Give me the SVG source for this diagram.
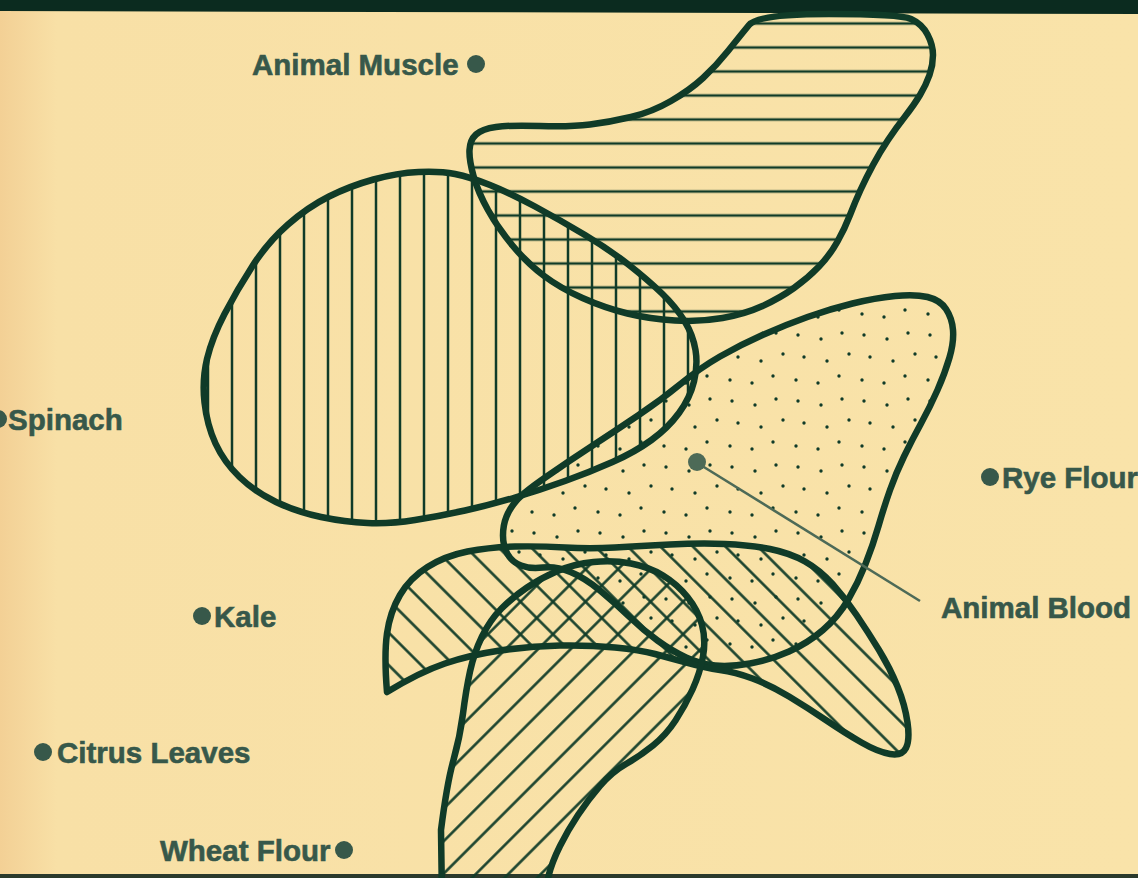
<svg xmlns="http://www.w3.org/2000/svg" width="1138" height="878" viewBox="0 0 1138 878">
<style>
.ol{fill:none;stroke:#103b28;stroke-width:6.5;stroke-linejoin:round;stroke-linecap:round}
.hl{stroke:#103b28;stroke-width:2.5}
.lbl{font-family:"Liberation Sans",Arial,Helvetica,sans-serif;font-weight:bold;font-size:29.5px;fill:#37584a;stroke:#37584a;stroke-width:0.6}
.bul{fill:#37584a}
</style>
<defs>
<linearGradient id="bg" x1="0" y1="0" x2="1" y2="0">
<stop offset="0" stop-color="#f3d095"/>
<stop offset="0.05" stop-color="#f8e0a6"/>
<stop offset="1" stop-color="#f9e3a9"/>
</linearGradient>
<pattern id="pH" patternUnits="userSpaceOnUse" x="0" y="11.5" width="40" height="24"><line class="hl" x1="0" y1="12" x2="40" y2="12"/></pattern>
<pattern id="pV" patternUnits="userSpaceOnUse" x="4" y="0" width="24" height="40"><line class="hl" x1="12" y1="0" x2="12" y2="40"/></pattern>
<pattern id="pD1" patternUnits="userSpaceOnUse" width="40" height="23" patternTransform="rotate(45)"><line class="hl" x1="0" y1="11.5" x2="40" y2="11.5"/></pattern>
<pattern id="pD2" patternUnits="userSpaceOnUse" width="40" height="23" patternTransform="rotate(-45)"><line class="hl" x1="0" y1="11.5" x2="40" y2="11.5"/></pattern>
<pattern id="pDot" patternUnits="userSpaceOnUse" width="66" height="66" fill="#103b28">
<circle cx="6" cy="5" r="1.7"/><circle cx="29" cy="9" r="1.7"/><circle cx="50" cy="3" r="1.7"/>
<circle cx="12" cy="27" r="1.7"/><circle cx="35" cy="31" r="1.7"/><circle cx="57" cy="24" r="1.7"/>
<circle cx="4" cy="50" r="1.7"/><circle cx="26" cy="53" r="1.7"/><circle cx="47" cy="46" r="1.7"/>
</pattern>
<path id="shA" d="M749,25 Q758,14 829,14 Q900,14 911,19 Q922,24 927.5,34.5 Q933,45 933,55 Q933,65 929.5,75 Q926,85 920,95 Q914,105 905,116.5 Q896,128 888,140 Q880,152 873,165 Q866,178 860.5,190 Q855,202 850,215 Q845,228 837.5,241.5 Q830,255 819,266.5 Q808,278 794,288 Q780,298 762.5,306 Q745,314 722.5,318 Q700,322 675,320.5 Q650,319 627.5,313.5 Q605,308 582.5,298 Q560,288 543.5,275.5 Q527,263 512.5,245.5 Q498,228 488,210 Q478,192 473.5,176 Q469,160 469.5,150 Q470,140 476,134.5 Q482,129 496,127 Q510,125 540,126 Q570,127 590,124.5 Q610,122 631,117 Q652,112 671,101 Q690,90 703,78 Q716,66 728,51 Q740,36 749,25 Z"/>
<path id="shB" d="M418.5,172 Q440,171 455,174 Q470,177 490,185 Q510,193 535,206.5 Q560,220 585,235 Q610,250 629,265 Q648,280 662,293.5 Q676,307 684.5,321 Q693,335 695.5,350 Q698,365 694,381.5 Q690,398 679,413 Q668,428 651.5,440 Q635,452 612.5,462 Q590,472 565,481 Q540,490 515,497.5 Q490,505 465,510.5 Q440,516 415,520 Q390,524 367.5,523 Q345,522 321,517 Q297,512 276,502 Q255,492 239.5,477 Q224,462 215.5,443.5 Q207,425 204.5,402.5 Q202,380 207,359 Q212,338 224.5,314 Q237,290 252.5,266 Q268,242 288,224.5 Q308,207 329,196.5 Q350,186 373.5,179.5 Q397,173 418.5,172 Z"/>
<path id="shC" d="M516.5,500.5 Q523,493 546,477 Q569,461 592,446 Q615,431 638,415.5 Q661,400 680.5,384 Q700,368 720,356.5 Q740,345 762.5,335 Q785,325 807.5,317 Q830,309 852.5,303.5 Q875,298 895,296 Q915,294 927.5,297 Q940,300 946,309 Q952,318 953,330 Q954,342 949.5,357.5 Q945,373 937.5,390 Q930,407 921,423.5 Q912,440 904,456.5 Q896,473 890,490 Q884,507 878.5,526 Q873,545 865.5,564 Q858,583 848,600 Q838,617 823,630 Q808,643 789,651.5 Q770,660 750,663.5 Q730,667 715,665.5 Q700,664 686,657.5 Q672,651 657.5,640.5 Q643,630 629,616.5 Q615,603 600,590.5 Q585,578 570.5,572 Q556,566 543,567.5 Q530,569 521,565.5 Q512,562 507.5,554 Q503,546 503,535.5 Q503,525 506.5,516.5 Q510,508 516.5,500.5 Z"/>
<path id="shD" d="M387,692 Q384,655 387,633.5 Q390,612 400,595 Q410,578 427.5,567 Q445,556 467.5,551.5 Q490,547 515,546.5 Q540,546 565,547.5 Q590,549 615,547.5 Q640,546 670,544.5 Q700,543 725,544 Q750,545 770,549 Q790,553 805,561.5 Q820,570 832.5,584 Q845,598 856.5,615 Q868,632 879,650 Q890,668 897.5,686.5 Q905,705 907.5,722.5 Q910,740 906,748 Q902,756 890,754 Q878,752 861.5,742.5 Q845,733 826.5,720.5 Q808,708 789,696.5 Q770,685 752.5,678.5 Q735,672 720,670 Q705,668 687.5,663 Q670,658 655,654 Q640,650 615,647.5 Q590,645 560,645.5 Q530,646 500,650.5 Q470,655 445,663.5 Q420,672 387,692 Z"/>
<path id="shE" d="M442,900 L441,830 Q447,783 453.5,760 Q460,737 463,713.5 Q466,690 470,671.5 Q474,653 482,636.5 Q490,620 501.5,608.5 Q513,597 527,587.5 Q541,578 557.5,571 Q574,564 593.5,562 Q613,560 631,563.5 Q649,567 663,575.5 Q677,584 687.5,597 Q698,610 702,625 Q706,640 703,656.5 Q700,673 692.5,689.5 Q685,706 675.5,720.5 Q666,735 653,745.5 Q640,756 626,764 Q612,772 600,786 Q588,800 578,815 Q568,830 560,846 Q552,862 548.5,876 L545,900 Z"/>
</defs>
<rect width="1138" height="878" fill="url(#bg)"/>
<polygon points="0,0 1138,0 1138,14 0,11" fill="#0b2b1f"/>
<rect x="0" y="874" width="1138" height="4" fill="#2b3a2c"/>

<g id="region-horizontal">
<use href="#shA" fill="url(#pH)"/>
</g>
<g id="region-vertical">
<use href="#shB" fill="url(#pV)"/>
</g>
<g id="region-animal-blood">
<use href="#shC" fill="url(#pDot)"/>
</g>
<g id="region-diag-back">
<use href="#shD" fill="url(#pD1)"/>
</g>
<g id="region-diag-fwd">
<use href="#shE" fill="url(#pD2)"/>
</g>
<g id="outlines">
<use href="#shA" class="ol"/>
<use href="#shB" class="ol"/>
<use href="#shC" class="ol"/>
<use href="#shD" class="ol"/>
<use href="#shE" class="ol"/>
</g>

<g id="connectors">
<line x1="699" y1="464" x2="920" y2="601" stroke="#4d6a57" stroke-width="2.6"/>
<circle cx="697" cy="462" r="9" fill="#4d6a57"/>
</g>

<g id="label-animal-muscle"><text class="lbl" x="252" y="75">Animal Muscle</text><circle class="bul" cx="476" cy="64" r="9"/></g>
<g id="label-spinach"><circle class="bul" cx="-2" cy="419" r="9"/><text class="lbl" x="8" y="430">Spinach</text></g>
<g id="label-rye-flour"><circle class="bul" cx="990" cy="477" r="9"/><text class="lbl" x="1002" y="488">Rye Flour</text></g>
<g id="label-animal-blood"><text class="lbl" x="941" y="618">Animal Blood</text></g>
<g id="label-kale"><circle class="bul" cx="202" cy="616" r="9"/><text class="lbl" x="214" y="627">Kale</text></g>
<g id="label-citrus-leaves"><circle class="bul" cx="43" cy="752" r="9"/><text class="lbl" x="57" y="763">Citrus Leaves</text></g>
<g id="label-wheat-flour"><text class="lbl" x="160" y="861">Wheat Flour</text><circle class="bul" cx="344" cy="850" r="9"/></g>
</svg>
